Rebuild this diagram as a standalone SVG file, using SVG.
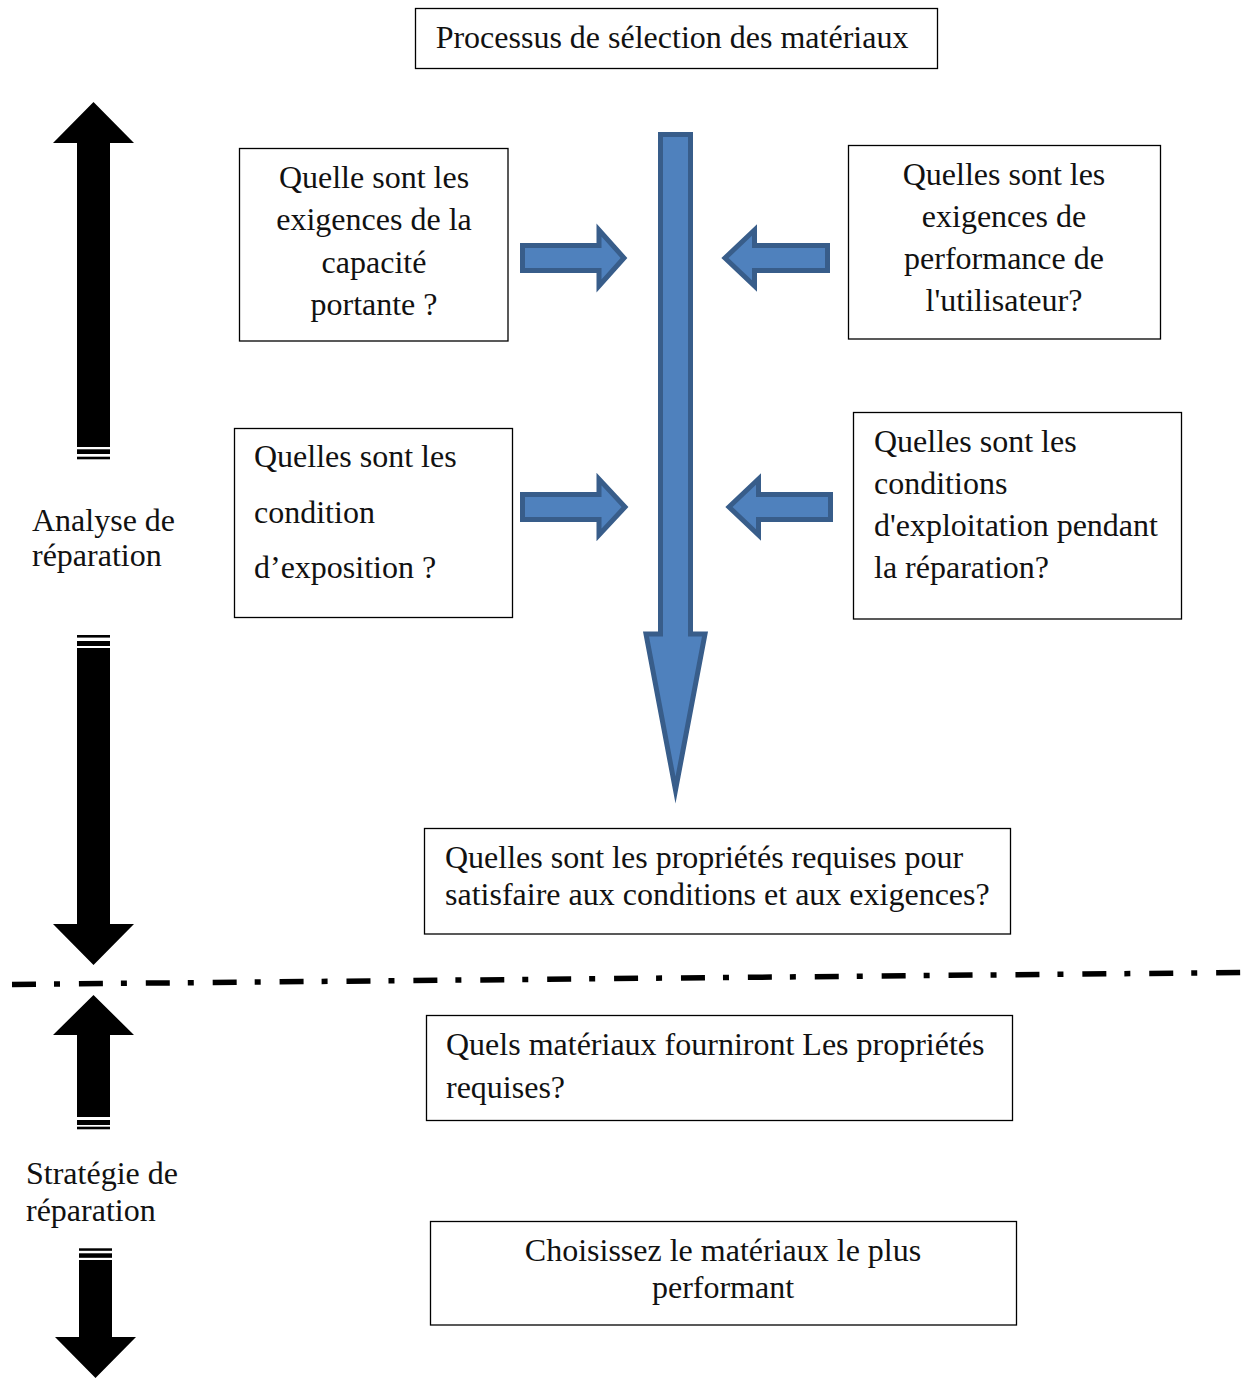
<svg xmlns="http://www.w3.org/2000/svg" width="1244" height="1379" viewBox="0 0 1244 1379">
<style>
.box{fill:#fff;stroke:#000;stroke-width:1.3}
.t{font-family:"Liberation Serif","Times New Roman",serif;font-size:32px;fill:#111}
.c{text-anchor:middle}
.blue{fill:#4F81BD;stroke:#385D8A;stroke-width:5;stroke-linejoin:miter;stroke-miterlimit:10}
.blk{fill:#000}
</style>
<rect width="1244" height="1379" fill="#fff"/>

<g id="connectors">
  <!-- blue arrows -->
  <path class="blue" d="M660.5,134.5 H690.5 V634 H705 L675.5,790 L646,634 H660.5 Z"/>
  <path class="blue" d="M522.5,245.5 H599 V230 L624,258 L599,286 V270.5 H522.5 Z"/>
  <path class="blue" d="M827.5,245.5 H754.5 V230 L725,258 L754.5,286 V270.5 H827.5 Z"/>
  <path class="blue" d="M522.5,494.5 H599 V479 L625,507 L599,535 V519.5 H522.5 Z"/>
  <path class="blue" d="M830.5,494.5 H758.5 V479 L729,507 L758.5,535 V519.5 H830.5 Z"/>
  <!-- black striped arrows -->
  <polygon class="blk" points="93.5,102 134,143 110,143 110,447 77,447 77,143 53,143"/>
  <rect class="blk" x="77" y="449.3" width="33" height="4.7"/>
  <rect class="blk" x="77" y="456.7" width="33" height="2.6"/>
  <rect class="blk" x="77" y="635" width="33" height="2.6"/>
  <rect class="blk" x="77" y="641" width="33" height="5"/>
  <polygon class="blk" points="77,648 110,648 110,924 134,924 93.5,965 53,924 77,924"/>
  <polygon class="blk" points="93.5,995 134,1035 110,1035 110,1117 77,1117 77,1035 53,1035"/>
  <rect class="blk" x="77" y="1120" width="33" height="5"/>
  <rect class="blk" x="77" y="1126.7" width="33" height="2.6"/>
  <rect class="blk" x="79" y="1248.3" width="33" height="2.5"/>
  <rect class="blk" x="79" y="1253.3" width="33" height="4.5"/>
  <polygon class="blk" points="79,1260 112,1260 112,1337 136,1337 95.5,1378 55,1337 79,1337"/>
  <!-- dash-dot separator -->
  <line x1="12" y1="984.4" x2="1244" y2="972.5" stroke="#000" stroke-width="5.5" stroke-dasharray="24 18 6 18.9"/>
</g>

<g id="title">
  <rect class="box" x="415.5" y="8.5" width="522" height="60"/>
  <text class="t c" x="672" y="48">Processus de sélection des matériaux</text>
</g>

<g id="capacite">
  <rect class="box" x="239.5" y="148.5" width="268.5" height="192.5"/>
  <text class="t c" x="374" y="188">Quelle sont les</text>
  <text class="t c" x="374" y="230">exigences de la</text>
  <text class="t c" x="374" y="273">capacité</text>
  <text class="t c" x="374" y="315">portante ?</text>
</g>

<g id="performance">
  <rect class="box" x="848.5" y="145.5" width="312" height="193.5"/>
  <text class="t c" x="1004" y="185">Quelles sont les</text>
  <text class="t c" x="1004" y="227">exigences de</text>
  <text class="t c" x="1004" y="269">performance de</text>
  <text class="t c" x="1004" y="311">l'utilisateur?</text>
</g>

<g id="exposition">
  <rect class="box" x="234.5" y="428.5" width="278" height="189"/>
  <text class="t" x="254" y="467">Quelles sont les</text>
  <text class="t" x="254" y="523">condition</text>
  <text class="t" x="254" y="578">d’exposition ?</text>
</g>

<g id="exploitation">
  <rect class="box" x="853.5" y="412.5" width="328" height="206.5"/>
  <text class="t" x="874" y="452">Quelles sont les</text>
  <text class="t" x="874" y="494">conditions</text>
  <text class="t" x="874" y="536">d'exploitation pendant</text>
  <text class="t" x="874" y="578">la réparation?</text>
</g>

<g id="proprietes">
  <rect class="box" x="424.5" y="828.5" width="586" height="105.5"/>
  <text class="t" x="445" y="868">Quelles sont les propriétés requises pour</text>
  <text class="t" x="445" y="905">satisfaire aux conditions et aux exigences?</text>
</g>

<g id="materiaux">
  <rect class="box" x="426.5" y="1015.5" width="586" height="105"/>
  <text class="t" x="446" y="1055">Quels matériaux fourniront Les propriétés</text>
  <text class="t" x="446" y="1098">requises?</text>
</g>

<g id="choix">
  <rect class="box" x="430.5" y="1221.5" width="586" height="103.5"/>
  <text class="t c" x="723" y="1261">Choisissez le matériaux le plus</text>
  <text class="t c" x="723" y="1298">performant</text>
</g>

<g id="analyse">
  <text class="t" x="32" y="531">Analyse de</text>
  <text class="t" x="32" y="566">réparation</text>
</g>

<g id="strategie">
  <text class="t" x="26" y="1184">Stratégie de</text>
  <text class="t" x="26" y="1221">réparation</text>
</g>
</svg>
